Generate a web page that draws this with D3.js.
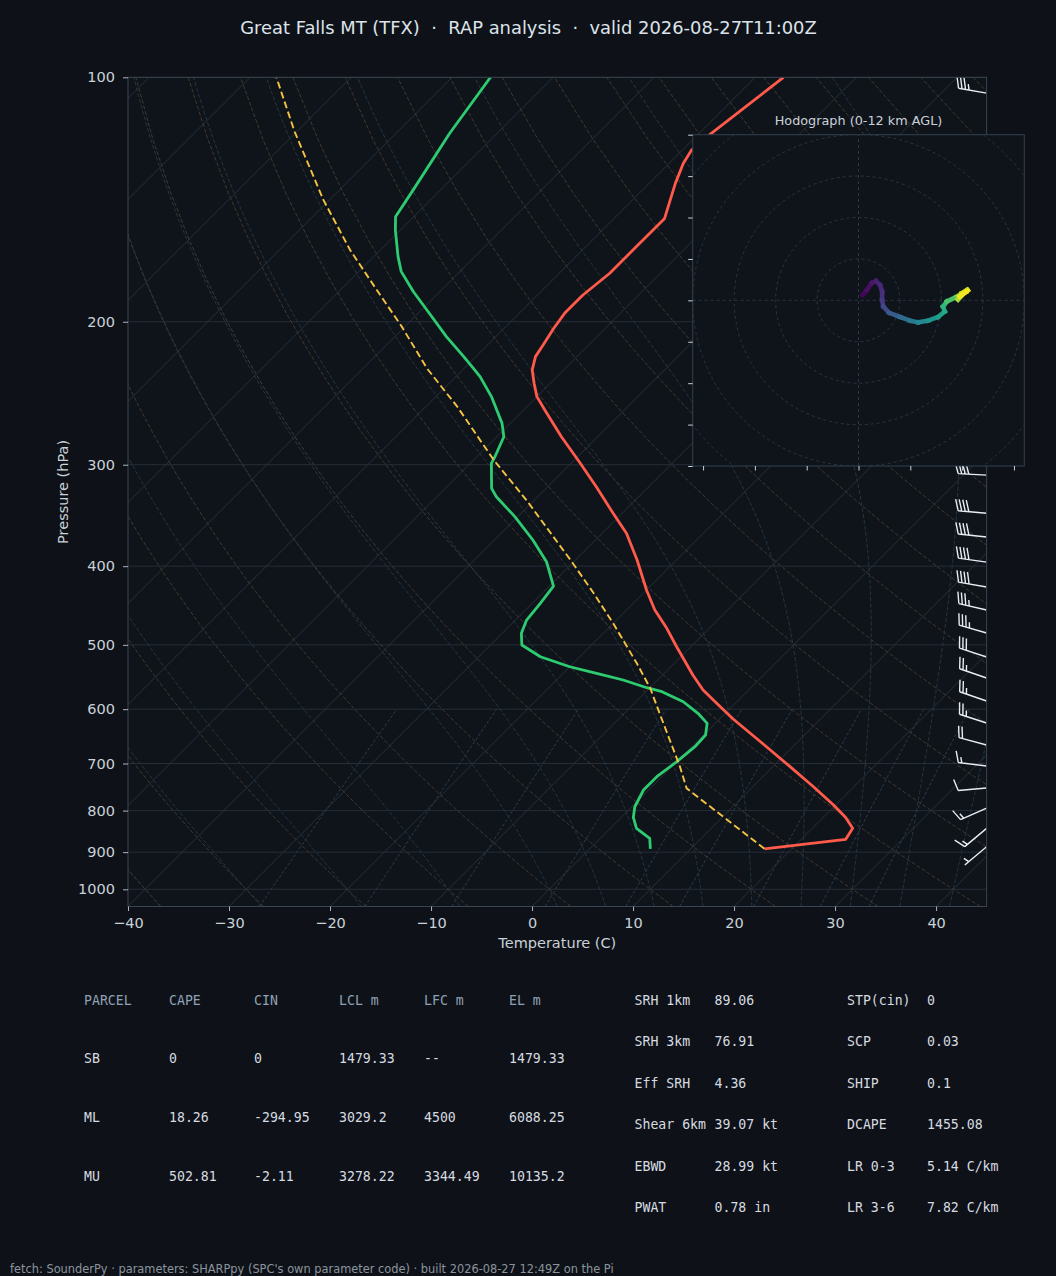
<!DOCTYPE html>
<html>
<head>
<meta charset="utf-8">
<script src="https://cdn.jsdelivr.net/npm/d3@7"></script>
<style>
  body { margin: 0; background: #0e1218; }
  svg { display: block; }
</style>
</head>
<body>
<svg id="chart" width="1056" height="1276"></svg>
<script>
// ---- sounding values ----
var tempP = [891.5, 867.8, 841.2, 815.4, 787.5, 747.6, 706.3, 658, 617.5, 584.6, 568.3, 544.6, 502.7, 477.1, 452.9, 428, 393.1, 364.4, 344.3, 319.3, 298.8, 277.1, 256.8, 247.3, 238.1, 229.3, 220.8, 213.6, 203.7, 195.3, 185.4, 174.3, 163.2, 149.2, 135.1, 127.6, 122.9, 117.2, 100];
var tempC = [17.3, 24.4, 24.0, 22.2, 19.8, 16.0, 11.7, 6.3, 1.4, -2.5, -4.5, -7.0, -11.4, -14.2, -17.2, -20.0, -23.9, -27.6, -30.9, -35.2, -39.1, -43.6, -47.9, -50.0, -51.6, -53.1, -54.1, -54.5, -55.1, -55.5, -55.5, -55.0, -55.0, -55.0, -57.4, -58.6, -59.1, -58.8, -57.2];

var dewP = [891.5, 865.4, 841.2, 815.4, 791.3, 754.6, 726.7, 696.4, 667.4, 645.6, 624.6, 607.1, 587.5, 571, 564.6, 552.4, 542, 532, 517.1, 500.2, 483.9, 466, 444.4, 423.2, 395, 371.4, 347.6, 328.5, 320.8, 298.8, 293.3, 277.1, 266.8, 247.3, 233.7, 229.3, 220.8, 208.6, 197.2, 183.7, 173.5, 166.3, 154.2, 148.5, 137.7, 117.2, 100];
var dewC = [6.0, 4.9, 2.6, 1.2, 0.3, -0.5, -0.5, 0.0, 0.3, 0.2, -0.8, -2.7, -5.3, -8.4, -10.3, -13.4, -16.7, -20.0, -23.9, -26.9, -28.1, -28.9, -29.2, -29.6, -32.7, -36.2, -40.3, -44.1, -45.4, -47.9, -48.2, -49.3, -50.8, -54.5, -57.6, -58.8, -61.2, -64.9, -68.3, -72.6, -75.8, -77.6, -80.5, -81.8, -82.7, -84.7, -86.2];

var parcelP = [891.5, 751, 706.3, 607.1, 565.5, 526.9, 470.4, 432, 395, 331.6, 296, 254.4, 228.2, 202.8, 182.8, 163.2, 141.6, 116.7, 100];
var parcelC = [17.3, 3.6, 0.8, -6.5, -9.9, -13.7, -20.0, -24.9, -30.2, -40.8, -48.0, -56.9, -63.7, -70.3, -76.4, -83.0, -90.6, -100.2, -107.4];

var barbP = [104.6, 309, 344.3, 368.3, 395.4, 424.4, 452.9, 483.5, 517.5, 549.3, 586.3, 624.1, 664.2, 705, 750.3, 794.2, 841.2, 886.3];
var barbDir = [280, 273, 275, 276, 278, 280, 283, 286, 288, 289, 289, 288, 285, 277, 265, 246, 230, 230];
var barbKt = [35, 40, 40, 40, 40, 40, 35, 35, 30, 25, 25, 25, 20, 15, 10, 15, 15, 5];

var hodoU = [1.0, 2.0, 3.2, 4.2, 5.2, 5.7, 5.7, 6.0, 7.4, 10.0, 12.4, 14.4, 16.8, 19.2, 20.8, 20.4, 21.3, 23.7, 25.7, 24.0, 26.2, 24.9, 25.9, 24.4, 26.4];
var hodoV = [1.3, 2.5, 4.2, 4.7, 3.7, 2.1, 0.1, -1.5, -3.0, -4.0, -4.9, -5.3, -4.9, -4.0, -2.7, -1.5, -0.3, 0.9, 2.1, 0.2, 2.5, 1.7, 2.0, 1.0, 2.4];
var hodoKm = [0, 0.3, 0.6, 0.9, 1.2, 1.5, 1.8, 2.2, 3.0, 3.8, 4.5, 5.2, 5.8, 6.5, 7.2, 7.6, 8.2, 9.0, 9.8, 10.3, 10.7, 11.0, 11.4, 11.7, 12.0];

var pTicks = [100, 200, 300, 400, 500, 600, 700, 800, 900, 1000];
var tTicks = [-40, -30, -20, -10, 0, 10, 20, 30, 40];
var hodoYTicks = [-40, -30, -20, -10, 0, 10, 20, 30, 40];
var hodoXTicks = [-37.5, -25, -12.5, 0, 12.5, 25, 37.5];
var hodoRings = [10, 20, 30, 40, 50];

var mixRatios = [0.0004, 0.001, 0.002, 0.004, 0.007, 0.01, 0.016, 0.024, 0.032];

var titleText = 'Great Falls MT (TFX) \u00a0\u00b7\u00a0 RAP analysis \u00a0\u00b7\u00a0 valid 2026-08-27T11:00Z';
var footerText = "fetch: SounderPy \u00b7 parameters: SHARPpy (SPC's own parameter code) \u00b7 built 2026-08-27 12:49Z on the Pi";

var parcelHeader = ['PARCEL', 'CAPE', 'CIN', 'LCL m', 'LFC m', 'EL m'];
var parcelRows = [
  ['SB', '0', '0', '1479.33', '--', '1479.33'],
  ['ML', '18.26', '-294.95', '3029.2', '4500', '6088.25'],
  ['MU', '502.81', '-2.11', '3278.22', '3344.49', '10135.2']
];
var paramNames1 = ['SRH 1km', 'SRH 3km', 'Eff SRH', 'Shear 6km', 'EBWD', 'PWAT'];
var paramVals1 = ['89.06', '76.91', '4.36', '39.07 kt', '28.99 kt', '0.78 in'];
var paramNames2 = ['STP(cin)', 'SCP', 'SHIP', 'DCAPE', 'LR 0-3', 'LR 3-6'];
var paramVals2 = ['0', '0.03', '0.1', '1455.08', '5.14 C/km', '7.82 C/km'];

// ---- layout ----
var W = 1056, H = 1276;
var L = 128, R = 986.6, T = 77.3, B = 906.5;
var svg = d3.select('#chart');

svg.append('rect').attr('width', W).attr('height', H).attr('fill', '#0e1218');

var x = d3.scaleLinear().domain([-40, 45]).range([L, R]);
var y = d3.scaleLog().domain([1050, 100]).range([B, T]);

// skew: 45 degrees in display space, measured from the bottom of the axes
function skx(t, p) { return x(t) + (B - y(p)); }

var line = d3.line()
    .x(function(d){ return skx(d[1], d[0]); })
    .y(function(d){ return y(d[0]); });

var defs = svg.append('defs');
defs.append('clipPath').attr('id', 'plotClip')
  .append('rect').attr('x', L).attr('y', T).attr('width', R - L).attr('height', B - T);

svg.append('rect')
    .attr('x', L).attr('y', T).attr('width', R - L).attr('height', B - T)
    .attr('fill', '#0f141b');

var plot = svg.append('g').attr('clip-path', 'url(#plotClip)');

//isobars
plot.selectAll(null)
    .data(pTicks)
    .enter()
    .append('line')
    .attr('x1', L).attr('x2', R)
    .attr('y1', function(d){ return y(d); })
    .attr('y2', function(d){ return y(d); })
    .attr('stroke', '#252d37')
    .attr('stroke-width', 1);

//isotherms
var isoT = d3.range(-130, 50, 10);
plot.selectAll(null)
    .data(isoT)
    .enter()
    .append('line')
    .attr('x1', function(d){ return skx(d, 1050); })
    .attr('y1', y(1050))
    .attr('x2', function(d){ return skx(d, 100); })
    .attr('y2', y(100))
    .attr('stroke', '#2a3139')
    .attr('stroke-width', 1);

var pLevels = d3.range(50).map(function(i){ return 1050 - i * (950 / 49); });

//dry adiabats
var dryT0 = d3.range(-40, 250, 10);
dryT0.forEach(function(t0){
  var pts = pLevels.map(function(p){
    return [p, (t0 + 273.15) * Math.pow(p / 1000, 0.2857) - 273.15];
  });
  plot.append('path')
      .attr('d', line(pts))
      .attr('fill', 'none')
      .attr('stroke', '#43392c')
      .attr('stroke-width', 1)
      .attr('stroke-dasharray', '4,2');
});

//moist adiabats
var Rd = 287.04749, Cp = 1004.6662, Lv = 2.50084e6, eps = 0.621957;
function satVap(tk) { var tc = tk - 273.15; return 6.112 * Math.exp(17.67 * tc / (tc + 243.5)); }
function dTdp(p, tk) {
  var e = satVap(tk);
  var rs = eps * e / (p - e);
  return (Rd * tk + Lv * rs) / (Cp + Lv * Lv * rs * eps / (Rd * tk * tk)) / p;
}
function rk(p, tk, h) {
  var k1 = dTdp(p, tk),
      k2 = dTdp(p + h / 2, tk + h / 2 * k1),
      k3 = dTdp(p + h / 2, tk + h / 2 * k2),
      k4 = dTdp(p + h, tk + h * k3);
  return tk + h / 6 * (k1 + 2 * k2 + 2 * k3 + k4);
}
function moistLine(t0) {
  var up = [[1000, t0]], down = [];
  var tk = t0 + 273.15, p = 1000;
  while (p > 100.01) { tk = rk(p, tk, -5); p -= 5; up.push([p, tk - 273.15]); }
  tk = t0 + 273.15; p = 1000;
  while (p < 1049.99) { tk = rk(p, tk, 5); p += 5; down.unshift([p, tk - 273.15]); }
  return down.concat(up);
}
var moistT0 = [-40, -30, -20, -10].concat(d3.range(0, 96, 5));
moistT0.forEach(function(t0){
  plot.append('path')
      .attr('d', line(moistLine(t0)))
      .attr('fill', 'none')
      .attr('stroke', '#233741')
      .attr('stroke-width', 1)
      .attr('stroke-dasharray', '4,2');
});

//mixing ratio lines
var mixP = d3.range(10).map(function(i){ return 1050 - i * 50; });
mixRatios.forEach(function(w){
  var pts = mixP.map(function(p){
    var e = w * p / (eps + w);
    var a = Math.log(e / 6.112);
    return [p, 243.5 * a / (17.67 - a)];
  });
  plot.append('path')
      .attr('d', line(pts))
      .attr('fill', 'none')
      .attr('stroke', '#2b3c4c')
      .attr('stroke-width', 1)
      .attr('stroke-dasharray', '3,2');
});

//profiles
function profile(ps, ts) { return ps.map(function(p, i){ return [p, ts[i]]; }); }

plot.append('path')
    .attr('d', line(profile(dewP, dewC)))
    .attr('fill', 'none')
    .attr('stroke', '#2ecc71')
    .attr('stroke-width', 2.8)
    .attr('stroke-linejoin', 'round');

plot.append('path')
    .attr('d', line(profile(tempP, tempC)))
    .attr('fill', 'none')
    .attr('stroke', '#ff5a4a')
    .attr('stroke-width', 2.8)
    .attr('stroke-linejoin', 'round');

plot.append('path')
    .attr('d', line(profile(parcelP, parcelC)))
    .attr('fill', 'none')
    .attr('stroke', '#f5c242')
    .attr('stroke-width', 1.9)
    .attr('stroke-dasharray', '7,3.5');

//wind barbs (matplotlib geometry: length, height .4, width .25, spacing .125)
function barbPath(bx, by, dir, kt) {
  var len = 28.5, ht = 0.4 * len, wd = 0.25 * len, sp = 0.125 * len;
  var r = dir * Math.PI / 180;
  var sx = Math.sin(r), sy = -Math.cos(r);
  var fx = Math.cos(r), fy = Math.sin(r);
  function pt(o, h) { return (bx + sx * o + fx * h).toFixed(2) + ',' + (by + sy * o + fy * h).toFixed(2); }
  var mag = 5 * Math.floor(kt / 5 + 0.5);
  var nflags = Math.floor(mag / 50);
  var rem = mag - nflags * 50;
  var nbarbs = Math.floor(rem / 10);
  var half = (rem - nbarbs * 10) >= 5;
  var d = 'M' + pt(0, 0) + 'L' + pt(len, 0);
  var off = len;
  for (var i = 0; i < nflags; i++) {
    if (off !== len) off += sp / 2;
    d += 'M' + pt(off, 0) + 'L' + pt(off - wd / 2, ht) + 'L' + pt(off - wd, 0) + 'Z';
    off -= wd + sp;
  }
  for (var j = 0; j < nbarbs; j++) {
    d += 'M' + pt(off, 0) + 'L' + pt(off + wd / 2, ht);
    off -= sp;
  }
  if (half) {
    if (off === len) off -= 1.5 * sp;
    d += 'M' + pt(off, 0) + 'L' + pt(off + wd / 4, ht / 2);
  }
  return d;
}

plot.selectAll(null)
    .data(barbP)
    .enter()
    .append('path')
    .attr('d', function(d, i){ return barbPath(R, y(d), barbDir[i], barbKt[i]); })
    .attr('fill', '#e6edf3')
    .attr('stroke', '#e6edf3')
    .attr('stroke-width', 1.4)
    .attr('stroke-linejoin', 'miter');

//axes
svg.append('rect')
    .attr('x', L).attr('y', T).attr('width', R - L).attr('height', B - T)
    .attr('fill', 'none')
    .attr('stroke', '#3a4452')
    .attr('stroke-width', 1);

var xAxis = svg.append('g')
    .attr('transform', 'translate(0,' + B + ')')
    .call(d3.axisBottom(x).tickValues(tTicks).tickSize(4.5).tickPadding(7));
var yAxis = svg.append('g')
    .attr('transform', 'translate(' + L + ',0)')
    .call(d3.axisLeft(y).tickValues(pTicks).tickSize(5).tickPadding(8).tickFormat(d3.format('d')));

[xAxis, yAxis].forEach(function(ax){
  ax.select('.domain').remove();
  ax.selectAll('line').attr('stroke', '#aab4c0');
  ax.selectAll('text')
      .attr('fill', '#c9d1d9')
      .style('font-family', 'DejaVu Sans, sans-serif')
      .style('font-size', '14.5px');
});

svg.append('text')
    .attr('x', (L + R) / 2).attr('y', 948)
    .attr('text-anchor', 'middle')
    .attr('fill', '#c9d1d9')
    .style('font-family', 'DejaVu Sans, sans-serif')
    .style('font-size', '14.5px')
    .text('Temperature (C)');

svg.append('text')
    .attr('transform', 'translate(68,' + ((T + B) / 2) + ') rotate(-90)')
    .attr('text-anchor', 'middle')
    .attr('fill', '#c9d1d9')
    .style('font-family', 'DejaVu Sans, sans-serif')
    .style('font-size', '14.5px')
    .text('Pressure (hPa)');

svg.append('text')
    .attr('x', W / 2 + 0.5).attr('y', 34)
    .attr('text-anchor', 'middle')
    .attr('fill', '#dde3ea')
    .style('font-family', 'DejaVu Sans, sans-serif')
    .style('font-size', '17.9px')
    .text(titleText);

//hodograph inset
var hx = d3.scaleLinear().domain([-40, 40]).range([692.7, 1024.3]);
var hy = d3.scaleLinear().domain([-40, 40]).range([466, 134.7]);

svg.append('text')
    .attr('x', hx(0)).attr('y', 124.5)
    .attr('text-anchor', 'middle')
    .attr('fill', '#c9d1d9')
    .style('font-family', 'DejaVu Sans, sans-serif')
    .style('font-size', '12.8px')
    .text('Hodograph (0-12 km AGL)');

defs.append('clipPath').attr('id', 'hodoClip')
  .append('rect').attr('x', hx(-40)).attr('y', hy(40))
  .attr('width', hx(40) - hx(-40)).attr('height', hy(-40) - hy(40));

svg.append('rect')
    .attr('x', hx(-40)).attr('y', hy(40))
    .attr('width', hx(40) - hx(-40)).attr('height', hy(-40) - hy(40))
    .attr('fill', '#0f141b');

var hodo = svg.append('g').attr('clip-path', 'url(#hodoClip)');

hodo.selectAll(null)
    .data(hodoRings)
    .enter()
    .append('circle')
    .attr('cx', hx(0)).attr('cy', hy(0))
    .attr('r', function(d){ return hx(d) - hx(0); })
    .attr('fill', 'none')
    .attr('stroke', '#2b3543')
    .attr('stroke-width', 1)
    .attr('stroke-dasharray', '3,3');

hodo.append('line')
    .attr('x1', hx(-40)).attr('x2', hx(40)).attr('y1', hy(0)).attr('y2', hy(0))
    .attr('stroke', '#2b3543').attr('stroke-dasharray', '3,3');
hodo.append('line')
    .attr('x1', hx(0)).attr('x2', hx(0)).attr('y1', hy(-40)).attr('y2', hy(40))
    .attr('stroke', '#2b3543').attr('stroke-dasharray', '3,3');

var kmColor = d3.scaleSequential(d3.interpolateViridis).domain([0, 12]);
var segs = d3.range(hodoU.length - 1);
hodo.selectAll(null)
    .data(segs)
    .enter()
    .append('line')
    .attr('x1', function(i){ return hx(hodoU[i]); })
    .attr('y1', function(i){ return hy(hodoV[i]); })
    .attr('x2', function(i){ return hx(hodoU[i + 1]); })
    .attr('y2', function(i){ return hy(hodoV[i + 1]); })
    .attr('stroke', function(i){ return kmColor((hodoKm[i] + hodoKm[i + 1]) / 2); })
    .attr('stroke-width', 4.6)
    .attr('stroke-linecap', 'square');

svg.append('rect')
    .attr('x', hx(-40)).attr('y', hy(40))
    .attr('width', hx(40) - hx(-40)).attr('height', hy(-40) - hy(40))
    .attr('fill', 'none')
    .attr('stroke', '#33404f');

var hAxL = svg.append('g')
    .attr('transform', 'translate(' + hx(-40) + ',0)')
    .call(d3.axisLeft(hy).tickValues(hodoYTicks).tickSize(4.5).tickFormat(''));
var hAxB = svg.append('g')
    .attr('transform', 'translate(0,' + hy(-40) + ')')
    .call(d3.axisBottom(hx).tickValues(hodoXTicks).tickSize(4.5).tickFormat(''));
[hAxL, hAxB].forEach(function(ax){
  ax.select('.domain').remove();
  ax.selectAll('line').attr('stroke', '#c9d1d9');
});

//parameter tables
var mono = 'DejaVu Sans Mono, monospace';
var colX = [84, 169, 254, 339, 424, 509];
var rowY = [1000, 1058.5, 1117, 1176];

var tbl = svg.append('g').style('font-family', mono).style('font-size', '13.2px');

tbl.selectAll(null)
    .data(parcelHeader)
    .enter()
    .append('text')
    .attr('x', function(d, i){ return colX[i]; })
    .attr('y', rowY[0] + 4.8)
    .attr('fill', '#8fa1b6')
    .text(function(d){ return d; });

parcelRows.forEach(function(row, r){
  tbl.selectAll(null)
      .data(row)
      .enter()
      .append('text')
      .attr('x', function(d, i){ return colX[i]; })
      .attr('y', rowY[r + 1] + 4.8)
      .attr('fill', '#d6dbe1')
      .text(function(d){ return d; });
});

var pColX = [634.5, 714.5, 847, 927];
function paramCol(vals, cx) {
  tbl.selectAll(null)
      .data(vals)
      .enter()
      .append('text')
      .attr('x', cx)
      .attr('y', function(d, i){ return 1000 + 41.45 * i + 4.8; })
      .attr('fill', '#d6dbe1')
      .text(function(d){ return d; });
}
paramCol(paramNames1, pColX[0]);
paramCol(paramVals1, pColX[1]);
paramCol(paramNames2, pColX[2]);
paramCol(paramVals2, pColX[3]);

svg.append('text')
    .attr('x', 10).attr('y', 1273)
    .attr('fill', '#8b949e')
    .style('font-family', 'DejaVu Sans, sans-serif')
    .style('font-size', '11.4px')
    .text(footerText);
</script>
</body>
</html>
